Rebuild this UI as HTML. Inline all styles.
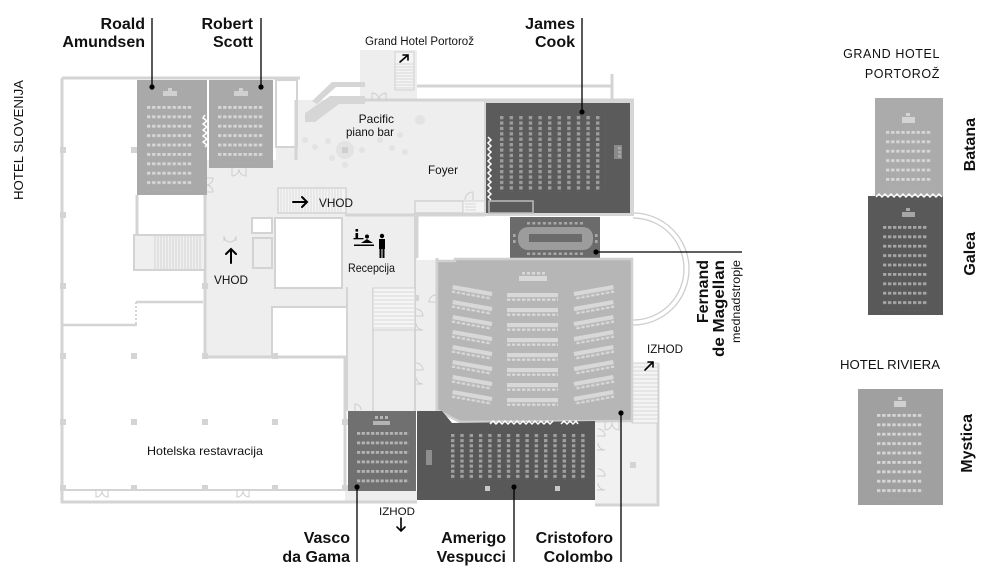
<!DOCTYPE html>
<html><head><meta charset="utf-8">
<style>
html,body{margin:0;padding:0;background:#fff;}
svg{display:block;}
text{font-family:"Liberation Sans",sans-serif;fill:#111;}
.b{font-weight:bold;font-size:16px;}
.s{font-size:12px;}
</style></head><body>
<svg width="1000" height="580" viewBox="0 0 1000 580" xmlns="http://www.w3.org/2000/svg">
<defs>
 <pattern id="sL" width="5.1" height="9.4" patternUnits="userSpaceOnUse"><rect width="3.4" height="2.8" fill="#d6d6d6"/></pattern>
 <pattern id="sG" width="5.0" height="9.4" patternUnits="userSpaceOnUse"><rect width="3.4" height="2.8" fill="#a6a6a6"/></pattern>
 <pattern id="sV" width="4.7" height="9.5" patternUnits="userSpaceOnUse"><rect width="3.2" height="2.8" fill="#b4b4b4"/></pattern>
 <pattern id="sA" width="9.3" height="5.1" patternUnits="userSpaceOnUse"><rect width="3.4" height="3.1" fill="#a0a0a0"/></pattern>
 <pattern id="sJ" width="9.6" height="5.4" patternUnits="userSpaceOnUse"><rect width="3.4" height="3.3" fill="#9c9c9c"/></pattern>
 <pattern id="sH" width="5" height="3" patternUnits="userSpaceOnUse"><rect width="3.4" height="2.6" fill="#dadada"/></pattern>
 <pattern id="sF" width="5.3" height="3" patternUnits="userSpaceOnUse"><rect width="3" height="2.6" fill="#a8a8a8"/></pattern>
 <g id="rowL"><rect width="40" height="4.2" fill="#d8d8d8"/><rect y="5.2" width="40" height="2.6" fill="url(#sH)"/></g>
 <g id="rowM"><rect width="51" height="4.2" fill="#d8d8d8"/><rect y="5.2" width="51" height="2.6" fill="url(#sH)"/></g>
</defs>

<!-- light floors -->
<g fill="#eeeeee">
 <rect x="205" y="160" width="140" height="197"/>
 <rect x="276" y="100" width="210" height="115"/>
 <rect x="360" y="50" width="57" height="50"/>
 <rect x="345" y="213" width="72" height="198"/>
 <rect x="417" y="258" width="20" height="153"/>
 <rect x="595" y="420" width="63" height="85" fill="#f1f1f1"/>
 <rect x="345" y="491" width="72" height="11"/>
</g>

<!-- white rooms / cut-outs -->
<g fill="#fff" stroke="#d3d3d3" stroke-width="2">
 <rect x="276" y="80" width="21" height="67"/>
 <rect x="275" y="218" width="67" height="70"/>
 <rect x="272" y="307" width="75" height="50"/>
 <rect x="252" y="218" width="20" height="15"/>
 <rect x="253" y="238" width="19" height="30" fill="#eeeeee"/>
 <rect x="417" y="217" width="93" height="43" stroke="none"/>
</g>

<!-- walls -->
<g fill="none" stroke="#d4d4d4" stroke-width="3">
 <path d="M62,78 V502 H345"/>
 <path d="M62,78 H300"/>
 <path d="M62,490 H345" stroke-width="2"/>
 <path d="M205,195 V357 H345 V491"/>
 <path d="M137,195 V235"/>
 <path d="M62,325 H137" stroke-width="2.5"/>
 <path d="M136,302 H203" stroke-width="2.5"/>
 <path d="M136,302 V325" stroke-width="2" stroke-dasharray="2 2"/>
 <path d="M417,86 H612" stroke-width="3"/>
 <path d="M612,74 V100"/>
 <path d="M365,100 H634"/>
 <path d="M296,100 V160"/>
 <path d="M345,215 H417 V258 M437,258 V411"/>
 <path d="M347,287 V411" stroke-width="2"/>
 <path d="M373,288 V411" stroke-width="1.5"/>
 <path d="M415,213 V411" stroke-width="2"/>
 <path d="M658,363 V505 H595"/>
 <path d="M345,502 H417"/>
 <path d="M417,215 H486"/>
</g>

<!-- door arcs -->
<g fill="none" stroke="#cdcdcd" stroke-width="1">
 <path d="M232,168 V176 A7,7 0 0 0 239,169 M246,168 V176 A7,7 0 0 1 239,169"/>
 <path d="M205,178 H213 A7,7 0 0 1 206,185 M205,192 H213 A7,7 0 0 0 206,185"/>
 <path d="M372,100 V93 A7,7 0 0 1 379,100 M386,100 V93 A7,7 0 0 0 379,100"/>
 <path d="M224,241 V236 A6,6 0 0 0 230,242 M236,241 V236 A6,6 0 0 1 230,242"/>
 <path d="M415,316 H423 A7,7 0 0 0 416,309 M415,330 H423 A7,7 0 0 1 416,323"/>
 <path d="M415,370 H423 A7,7 0 0 0 416,363 M415,384 H423 A7,7 0 0 1 416,377"/>
 <path d="M437,302 H429 A7,7 0 0 1 436,295"/>
 <path d="M445,262 V270 A7,7 0 0 0 452,263"/>
 <path d="M610,262 V270 A7,7 0 0 1 603,263 M585,262 V270 A7,7 0 0 0 592,263"/>
 <path d="M597,436 H605 A7,7 0 0 0 598,429 M597,450 H605 A7,7 0 0 1 598,443"/>
 <path d="M597,476 H605 A7,7 0 0 0 598,469 M597,490 H605 A7,7 0 0 1 598,483"/>
 <path d="M605,422 V430 A7,7 0 0 0 612,423 M619,422 V430 A7,7 0 0 1 612,423"/>
 <path d="M237,490 V497 A6,6 0 0 0 243,491 M249,490 V497 A6,6 0 0 1 243,491"/>
 <path d="M96,490 V497 A6,6 0 0 0 102,491 M108,490 V497 A6,6 0 0 1 102,491"/>
 <path d="M355,411 V404 A6,6 0 0 1 361,410"/>
 <path d="M510,222 H517 A6,6 0 0 1 511,228"/>
</g>

<!-- columns -->
<g fill="#d4d4d4">
 <rect x="60" y="353" width="6" height="6"/><rect x="131" y="353" width="6" height="6"/><rect x="202" y="353" width="6" height="6"/><rect x="272" y="353" width="6" height="6"/>
 <rect x="60" y="419" width="6" height="6"/><rect x="131" y="419" width="6" height="6"/><rect x="202" y="419" width="6" height="6"/><rect x="272" y="419" width="6" height="6"/><rect x="342" y="419" width="6" height="6"/>
 <rect x="60" y="485" width="6" height="6"/><rect x="131" y="485" width="6" height="6"/><rect x="202" y="485" width="6" height="6"/><rect x="272" y="485" width="6" height="6"/><rect x="342" y="485" width="6" height="6"/>
 <rect x="60" y="147" width="6" height="6"/><rect x="60" y="212" width="6" height="6"/><rect x="60" y="283" width="6" height="6"/><rect x="131" y="147" width="6" height="6"/>
 <rect x="202" y="283" width="6" height="6"/><rect x="413" y="295" width="6" height="6"/><rect x="630" y="462" width="6" height="6"/>
</g>

<!-- stairs -->
<rect x="134" y="235" width="71" height="35" fill="#efefef" stroke="#d3d3d3" stroke-width="2"/>
<path d="M155,236 V269 M158,236 V269 M161,236 V269 M164,236 V269 M167,236 V269 M170,236 V269 M173,236 V269 M176,236 V269 M179,236 V269 M182,236 V269 M185,236 V269 M188,236 V269 M191,236 V269 M194,236 V269 M197,236 V269 M200,236 V269" stroke="#d0d0d0" stroke-width="0.8"/>
<rect x="278" y="188" width="68" height="25" fill="#f3f3f3" stroke="#d3d3d3" stroke-width="1.5"/>
<path d="M281,189 V212 M284,189 V212 M287,189 V212 M290,189 V212 M293,189 V212 M296,189 V212 M299,189 V212 M302,189 V212 M305,189 V212 M308,189 V212 M311,189 V212 M314,189 V212 M317,189 V212 M320,189 V212 M323,189 V212 M326,189 V212 M329,189 V212 M332,189 V212 M335,189 V212 M338,189 V212 M341,189 V212" stroke="#d6d6d6" stroke-width="0.8"/>
<rect x="373" y="288" width="42" height="42" fill="#f5f5f5" stroke="#d0d0d0" stroke-width="1"/>
<path d="M373,292 H415 M373,296 H415 M373,300 H415 M373,304 H415 M373,308 H415 M373,312 H415 M373,316 H415 M373,320 H415 M373,324 H415 M373,328 H415" stroke="#cfcfcf" stroke-width="0.8"/>
<rect x="395" y="52" width="19" height="38" fill="#f4f4f4" stroke="#d0d0d0" stroke-width="1"/>
<path d="M395,64 H414 M395,67 H414 M395,70 H414 M395,73 H414 M395,76 H414 M395,79 H414 M395,82 H414 M395,85 H414 M395,88 H414" stroke="#cfcfcf" stroke-width="0.8"/>
<rect x="632" y="363" width="26" height="60" fill="#f4f4f4" stroke="#d0d0d0" stroke-width="1"/>
<path d="M632,367 H658 M632,371 H658 M632,375 H658 M632,379 H658 M632,383 H658 M632,387 H658 M632,391 H658 M632,395 H658 M632,399 H658 M632,403 H658 M632,407 H658 M632,411 H658 M632,415 H658 M632,419 H658" stroke="#d0d0d0" stroke-width="0.8"/>
<rect x="415" y="201" width="48" height="12" fill="#f0f0f0" stroke="#d2d2d2" stroke-width="1.5"/>
<rect x="463" y="201" width="24" height="12" fill="#f4f4f4" stroke="#d2d2d2" stroke-width="1"/>
<path d="M465,204 H476 M465,207 H476 M465,210 H476" stroke="#d0d0d0" stroke-width="0.8"/>
<path d="M465,200 A8,8 0 0 1 473,192 V200" fill="none" stroke="#cfcfcf" stroke-width="1"/>

<!-- diagonal stair near piano bar -->
<polygon points="305,113 330,96 365,96 365,104 339,104 315,122 305,122" fill="#d6d6d6"/>
<polygon points="312,101 332,82 365,82 365,87 336,87 317,104" fill="#d6d6d6"/>

<!-- piano bar tables -->
<g fill="#e3e3e3">
 <circle cx="345" cy="150" r="9"/><circle cx="328" cy="141" r="3"/><circle cx="315" cy="147" r="3"/><circle cx="332" cy="158" r="3"/><circle cx="362" cy="150" r="3"/><circle cx="345" cy="165" r="3"/><circle cx="380" cy="140" r="3"/><circle cx="392" cy="148" r="3"/><circle cx="405" cy="152" r="3"/><circle cx="400" cy="135" r="3"/><circle cx="420" cy="120" r="5"/><circle cx="305" cy="140" r="3"/>
</g>
<rect x="342" y="147" width="6" height="6" fill="#cfcfcf"/>

<!-- semicircle -->
<path d="M633,213 A56,56 0 0 1 633,325" fill="none" stroke="#cdcdcd" stroke-width="1.3"/>
<path d="M633,218 A51,51 0 0 1 633,320" fill="none" stroke="#cdcdcd" stroke-width="1.3"/>

<!-- Roald & Robert -->
<rect x="137" y="80" width="70" height="115" fill="#a9a9a9"/>
<rect x="209" y="80" width="64" height="88" fill="#a9a9a9"/>
<g transform="translate(147,106)"><rect width="45.9" height="84.6" fill="url(#sL)"/></g>
<g transform="translate(218,106)"><rect width="45.9" height="56.4" fill="url(#sL)"/></g>
<g fill="#d0d0d0"><rect x="168" y="88" width="4" height="3"/><rect x="163" y="91" width="14" height="5"/><rect x="239" y="88" width="4" height="3"/><rect x="234" y="91" width="14" height="5"/></g>
<polyline points="205,115 203,118 207,121 203,124 207,127 203,130 207,133 203,136 207,139 203,142 207,145 205,147" fill="none" stroke="#fff" stroke-width="1.5"/>

<!-- James Cook -->
<rect x="484" y="100" width="150" height="116" fill="#d6d6d6"/>
<rect x="486" y="103" width="144" height="110" fill="#5b5b5b"/>
<rect x="489" y="201" width="44" height="12" fill="#5b5b5b" stroke="#bdbdbd" stroke-width="1.5"/>
<g transform="translate(500,116)"><rect width="105.6" height="75.6" fill="url(#sJ)"/></g>
<rect x="614" y="145" width="8" height="14" fill="#8a8a8a"/>
<g fill="#a8a8a8"><rect x="618" y="147" width="3" height="2.5"/><rect x="618" y="151" width="3" height="2.5"/><rect x="618" y="155" width="3" height="2.5"/></g>
<polyline points="488,137 491,140 488,143 491,146 488,149 491,152 488,155 491,158 488,161 491,164 488,167 491,170 488,173 491,176 488,179 491,182 488,185 491,188 488,191 491,194 488,197 491,200" fill="none" stroke="#fff" stroke-width="1.5"/>

<!-- Fernand de Magellan -->
<rect x="510" y="217" width="90" height="41" fill="#6b6b6b"/>
<rect x="518" y="227" width="75" height="23" rx="10" fill="#9c9c9c"/>
<rect x="529" y="234" width="53" height="8" fill="#6b6b6b"/>
<g transform="translate(527,222)"><rect width="58" height="2.6" fill="url(#sF)"/></g>
<g transform="translate(527,252.5)"><rect width="58" height="2.6" fill="url(#sF)"/></g>
<g fill="#a8a8a8"><rect x="513" y="234" width="2.6" height="3"/><rect x="513" y="240" width="2.6" height="3"/><rect x="595" y="234" width="2.6" height="3"/><rect x="595" y="240" width="2.6" height="3"/></g>

<!-- Cristoforo Colombo hall -->
<polygon points="437,261 455,261 455,259 632,259 632,421 460,422 437,410" fill="#b6b6b6" stroke="#d0d0d0" stroke-width="2.5"/>
<g fill="#d8d8d8"><rect x="519" y="276" width="28" height="5"/><rect x="522" y="272" width="3" height="2.5"/><rect x="527" y="272" width="3" height="2.5"/><rect x="532" y="272" width="3" height="2.5"/><rect x="537" y="272" width="3" height="2.5"/><rect x="542" y="272" width="3" height="2.5"/></g>
<use href="#rowL" transform="translate(453,285) rotate(10)"/>
<use href="#rowL" transform="translate(453,300) rotate(10)"/>
<use href="#rowL" transform="translate(453,315) rotate(10)"/>
<use href="#rowL" transform="translate(453,330) rotate(10)"/>
<use href="#rowL" transform="translate(453,345) rotate(10)"/>
<use href="#rowL" transform="translate(453,360) rotate(10)"/>
<use href="#rowL" transform="translate(453,375) rotate(10)"/>
<use href="#rowL" transform="translate(453,390) rotate(10)"/>
<use href="#rowM" transform="translate(507,293)"/>
<use href="#rowM" transform="translate(507,308)"/>
<use href="#rowM" transform="translate(507,323)"/>
<use href="#rowM" transform="translate(507,338)"/>
<use href="#rowM" transform="translate(507,353)"/>
<use href="#rowM" transform="translate(507,368)"/>
<use href="#rowM" transform="translate(507,383)"/>
<use href="#rowM" transform="translate(507,398)"/>
<use href="#rowL" transform="translate(613,285) scale(-1,1) rotate(10)"/>
<use href="#rowL" transform="translate(613,300) scale(-1,1) rotate(10)"/>
<use href="#rowL" transform="translate(613,315) scale(-1,1) rotate(10)"/>
<use href="#rowL" transform="translate(613,330) scale(-1,1) rotate(10)"/>
<use href="#rowL" transform="translate(613,345) scale(-1,1) rotate(10)"/>
<use href="#rowL" transform="translate(613,360) scale(-1,1) rotate(10)"/>
<use href="#rowL" transform="translate(613,375) scale(-1,1) rotate(10)"/>
<use href="#rowL" transform="translate(613,390) scale(-1,1) rotate(10)"/>

<!-- Amerigo Vespucci -->
<polygon points="417,411 442,411 452,423 595,421 595,500 417,500" fill="#585858"/>
<g transform="translate(451,434)"><rect width="139.5" height="45.9" fill="url(#sA)"/></g>
<rect x="426" y="450" width="6" height="15" fill="#8e8e8e"/>
<g fill="#c8c8c8"><rect x="485" y="486" width="5" height="5"/><rect x="555" y="486" width="5" height="5"/></g>
<polyline points="490,424 493,421 496,424 499,421 502,424 505,421 508,424 511,421 514,424 517,421 520,424 523,421 526,424 529,421 532,424 535,421 538,424 541,421 544,424 547,421 550,424 553,421" fill="none" stroke="#fff" stroke-width="1.5"/>
<polyline points="561,424 564,421 567,424 570,421 573,424 576,421 578,424" fill="none" stroke="#fff" stroke-width="1.5"/>

<!-- Vasco da Gama -->
<rect x="348" y="411" width="68" height="80" fill="#707070"/>
<g transform="translate(357,432)"><rect width="51.7" height="57" fill="url(#sV)"/></g>
<g fill="#b4b4b4"><rect x="373" y="421" width="17" height="4"/><rect x="375" y="416" width="3" height="3"/><rect x="380" y="416" width="3" height="3"/><rect x="385" y="416" width="3" height="3"/></g>

<!-- Right side rooms -->
<rect x="875" y="98" width="68" height="99" fill="#ababab"/>
<rect x="868" y="196" width="75" height="119" fill="#595959"/>
<polyline points="876,197 879,194 882,197 885,194 888,197 891,194 894,197 897,194 900,197 903,194 906,197 909,194 912,197 915,194 918,197 921,194 924,197 927,194 930,197 933,194 936,197 939,194 942,197" fill="none" stroke="#fff" stroke-width="1.5"/>
<g transform="translate(886,131)"><rect width="45.9" height="56.4" fill="url(#sL)"/></g>
<g transform="translate(883,226)"><rect width="45" height="84.6" fill="url(#sG)"/></g>
<g fill="#d4d4d4"><rect x="906" y="113" width="4" height="3"/><rect x="902" y="117" width="13" height="6"/></g>
<g fill="#a6a6a6"><rect x="906" y="208" width="4" height="3"/><rect x="902" y="212" width="13" height="5"/></g>
<rect x="858" y="389" width="85" height="116" fill="#a0a0a0"/>
<g transform="translate(877,414)"><rect width="45.9" height="84.6" fill="url(#sL)"/></g>
<g fill="#d0d0d0"><rect x="898" y="397" width="4" height="3"/><rect x="894" y="401" width="12" height="6"/></g>

<!-- leader lines -->
<g stroke="#000" stroke-width="1.3" fill="none">
 <path d="M152,18 V87 M261,18 V87 M582,18 V112 M357,487 V562 M514,487 V562 M621,413 V562 M596,252 H742"/>
</g>
<g fill="#000">
 <circle cx="152" cy="87" r="2.6"/><circle cx="261" cy="87" r="2.6"/><circle cx="582" cy="112" r="2.6"/><circle cx="357" cy="487" r="2.6"/><circle cx="514" cy="487" r="2.6"/><circle cx="621" cy="413" r="2.6"/><circle cx="596" cy="252" r="2.6"/>
</g>

<!-- arrows -->
<g stroke="#000" stroke-width="2" fill="none" stroke-linecap="round">
 <path d="M293,202 H307 M302,197 L307,202 L302,207"/>
 <path d="M231,263 V249 M226,254 L231,249 L236,254"/>
 <path d="M400,62 L408,55 M403,55 H408 V60" stroke-width="1.6"/>
 <path d="M645,370 L653,362 M648,362 H653 V367" stroke-width="1.6"/>
 <path d="M401,518 V531 M397,527 L401,531 L405,527" stroke-width="1.6"/>
</g>

<!-- reception icon -->
<g fill="#000">
 <rect x="355.5" y="229" width="2.6" height="2.6"/><rect x="355.5" y="233" width="2.6" height="5"/><rect x="353.5" y="238" width="10" height="1.3"/>
 <rect x="354" y="244.5" width="20" height="1.5"/>
 <circle cx="367" cy="236.5" r="2"/><polygon points="361,243 367,239 373,243"/>
 <circle cx="382" cy="236" r="2.2"/><rect x="379" y="239" width="6" height="10"/><rect x="379.5" y="249" width="2" height="9"/><rect x="382.5" y="249" width="2" height="9"/>
</g>

<!-- labels -->
<g class="b" text-anchor="end">
 <text x="145" y="29">Roald</text><text x="145" y="47">Amundsen</text>
 <text x="253" y="29">Robert</text><text x="253" y="47">Scott</text>
 <text x="575" y="29">James</text><text x="575" y="47">Cook</text>
 <text x="350" y="543">Vasco</text><text x="350" y="562">da Gama</text>
 <text x="506" y="543">Amerigo</text><text x="506" y="562">Vespucci</text>
 <text x="613" y="543">Cristoforo</text><text x="613" y="562">Colombo</text>
 <text transform="translate(708,260) rotate(-90)">Fernand</text>
 <text transform="translate(724,260) rotate(-90)" textLength="97" lengthAdjust="spacingAndGlyphs">de Magellan</text>
 <text transform="translate(975,118) rotate(-90)">Batana</text>
 <text transform="translate(975,232) rotate(-90)">Galea</text>
 <text transform="translate(972,414) rotate(-90)">Mystica</text>
</g>
<text transform="translate(740,260) rotate(-90)" text-anchor="end" font-size="12" textLength="83" lengthAdjust="spacingAndGlyphs">mednadstropje</text>
<text transform="translate(23,80) rotate(-90)" text-anchor="end" font-size="13" textLength="120" lengthAdjust="spacingAndGlyphs">HOTEL SLOVENIJA</text>
<text x="940" y="58" text-anchor="end" font-size="12.5" letter-spacing="0.6">GRAND HOTEL</text>
<text x="940" y="78" text-anchor="end" font-size="12.5" letter-spacing="0.6">PORTOROŽ</text>
<text x="840" y="369" font-size="12.5" textLength="100" lengthAdjust="spacingAndGlyphs">HOTEL RIVIERA</text>

<g class="s">
 <text x="365" y="45" font-size="11.5" textLength="109" lengthAdjust="spacingAndGlyphs">Grand Hotel Portorož</text>
 <text x="394" y="123" text-anchor="end">Pacific</text>
 <text x="394" y="136" text-anchor="end" textLength="48" lengthAdjust="spacingAndGlyphs">piano bar</text>
 <text x="428" y="174" textLength="30" lengthAdjust="spacingAndGlyphs">Foyer</text>
 <text x="319" y="207" textLength="34" lengthAdjust="spacingAndGlyphs">VHOD</text>
 <text x="348" y="272" textLength="47" lengthAdjust="spacingAndGlyphs">Recepcija</text>
 <text x="214" y="284" textLength="34" lengthAdjust="spacingAndGlyphs">VHOD</text>
 <text x="147" y="455" textLength="116" lengthAdjust="spacingAndGlyphs">Hotelska restavracija</text>
 <text x="647" y="353" font-size="11.5" textLength="36" lengthAdjust="spacingAndGlyphs">IZHOD</text>
 <text x="379" y="515" font-size="11" textLength="36" lengthAdjust="spacingAndGlyphs">IZHOD</text>
</g>
</svg>
</body></html>
